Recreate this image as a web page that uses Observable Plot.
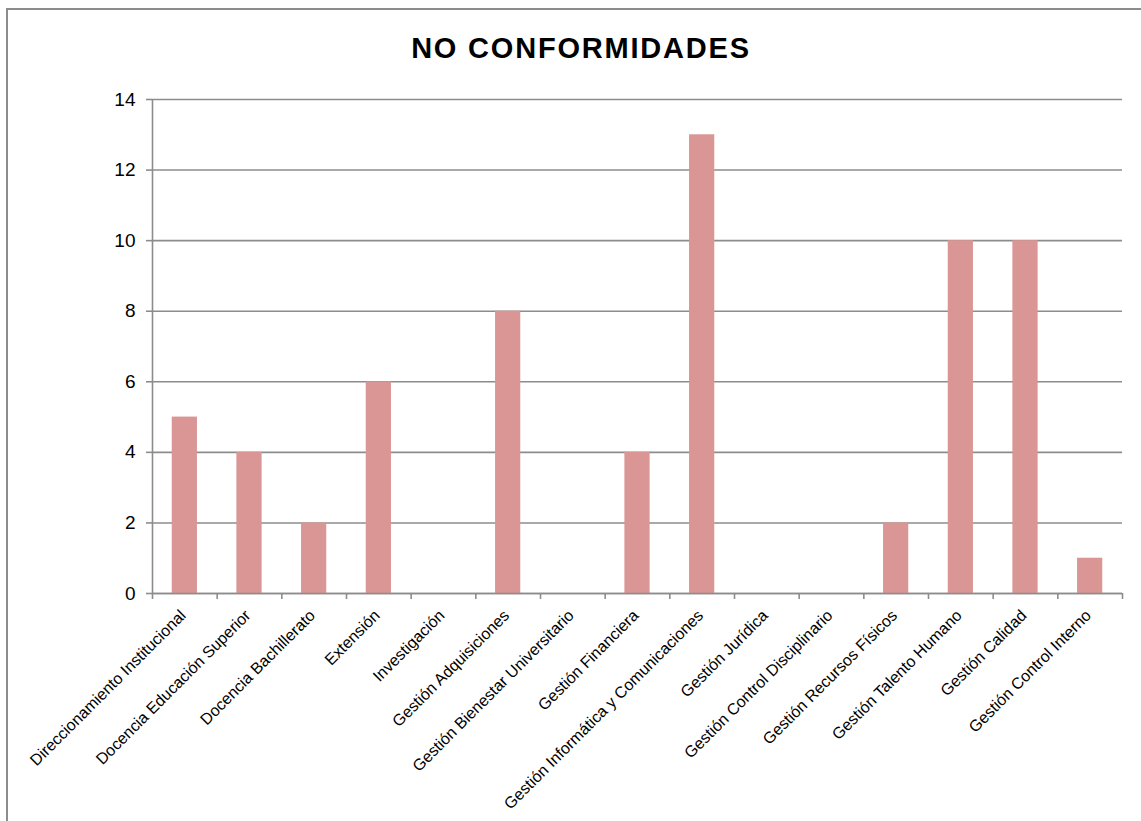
<!DOCTYPE html>
<html>
<head>
<meta charset="utf-8">
<script src="https://cdn.jsdelivr.net/npm/d3@7"></script>
<script src="https://cdn.jsdelivr.net/npm/@observablehq/plot@0.6"></script>
<style>
  html, body { margin: 0; padding: 0; background: #fff; }
  body { width: 1141px; height: 821px; overflow: hidden; position: relative; font-family: "Liberation Sans", Arial, sans-serif; }
  #frame { position: absolute; left: 6px; top: 8px; width: 1200px; height: 900px; border-top: 2px solid #8c8c8c; border-left: 2px solid #8c8c8c; z-index: 5; pointer-events: none; }
  #title { position: absolute; left: 0; top: 30px; width: 1162px; text-align: center; font-size: 29px; letter-spacing: 1.8px; font-weight: bold; color: #000; line-height: 36px; z-index: 6; }
  #chart { position: absolute; left: 0; top: 80px; }
</style>
</head>
<body>
<div id="chart"></div>
<div id="frame"></div>
<div id="title">NO CONFORMIDADES</div>
<script>
const categories = [
  "Direccionamiento Institucional",
  "Docencia Educación Superior",
  "Docencia Bachillerato",
  "Extensión",
  "Investigación",
  "Gestión Adquisiciones",
  "Gestión Bienestar Universitario",
  "Gestión Financiera",
  "Gestión Informática y Comunicaciones",
  "Gestión Jurídica",
  "Gestión Control Disciplinario",
  "Gestión Recursos Físicos",
  "Gestión Talento Humano",
  "Gestión Calidad",
  "Gestión Control Interno"
];
const values = [5, 4, 2, 6, 0, 8, 0, 4, 13, 0, 0, 2, 10, 10, 1];
const yTicks = [0, 2, 4, 6, 8, 10, 12, 14];

const data = categories.map((c, i) => ({category: c, value: values[i]}));

const W = 1141, H = 741, mL = 152, mR = 19, mT = 19, mB = 228;
const step = (W - mL - mR) / categories.length;
const gray = "#8c8c8c";

const chart = Plot.plot({
  width: W,
  height: H,
  marginLeft: mL,
  marginRight: mR,
  marginTop: mT,
  marginBottom: mB,
  style: {fontFamily: "'Liberation Sans', Arial, sans-serif", background: "#fff", overflow: "visible"},
  x: {domain: categories, paddingInner: 0.61, paddingOuter: 0.305, align: 0.5, round: false, axis: null, label: null},
  y: {domain: [0, 14], label: null},
  marks: [
    Plot.gridY(yTicks, {stroke: gray, strokeOpacity: 1, strokeWidth: 1.6}),
    Plot.barY(data, {x: "category", y: "value", fill: "#d99694", style: "filter: drop-shadow(1.5px 1px 1.5px rgba(0,0,0,0.3))"}),
    Plot.ruleY([0], {stroke: gray, strokeWidth: 1.6}),
    Plot.ruleX(data, {x: "category", y1: 0, y2: 0, dx: -step / 2, stroke: gray, strokeWidth: 1.6, insetBottom: -6}),
    Plot.ruleX(data.slice(-1), {x: "category", y1: 0, y2: 0, dx: step / 2, stroke: gray, strokeWidth: 1.6, insetBottom: -6}),
    Plot.axisY(yTicks, {tickSize: 6, tickPadding: 11, fontSize: 19, stroke: gray, strokeWidth: 1.6, label: null, tickFormat: d => String(d)}),
    Plot.ruleX([categories[0]], {x: d => d, dx: -step / 2, y1: 0, y2: 14, stroke: gray, strokeWidth: 1.6}),
    Plot.text(data, {x: "category", text: "category", frameAnchor: "bottom", dy: 23, dx: 2, rotate: -45, textAnchor: "end", fontSize: 16, fill: "#000", style: "letter-spacing: 0.45px"})
  ]
});

document.getElementById("chart").appendChild(chart);
</script>
</body>
</html>
